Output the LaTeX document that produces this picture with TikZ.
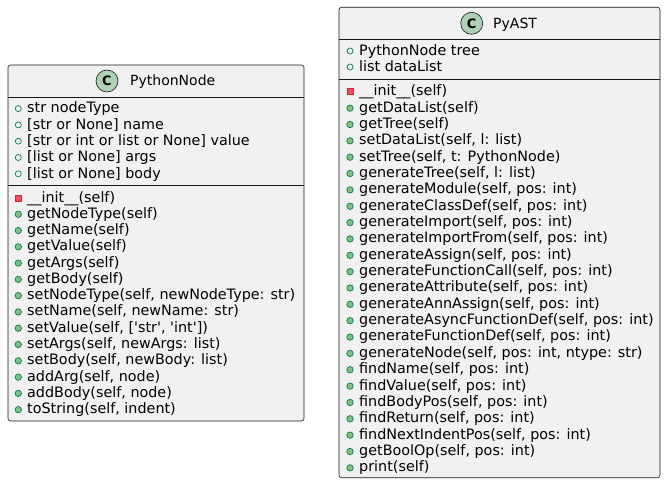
\documentclass[tikz,border=0pt]{standalone}
\usepackage{fontspec}
\setmainfont{DejaVu Sans}[Ligatures=TeXOff]
\definecolor{boxbg}{HTML}{F1F1F1}
\definecolor{boxline}{HTML}{181818}
\definecolor{circfill}{HTML}{ADD1B2}
\definecolor{pubfill}{HTML}{84BE84}
\definecolor{publine}{HTML}{038048}
\definecolor{privfill}{HTML}{F24D5C}
\definecolor{privline}{HTML}{C82930}
\tikzset{
  classbox/.style={draw=boxline, fill=boxbg, rounded corners=2.5pt, line width=0.6pt, inner sep=0pt},
  sepline/.style={draw=boxline, line width=0.6pt},
  member/.style={anchor=base west, inner sep=0pt, font=\fontsize{14.35pt}{16pt}\selectfont, text=black},
  title/.style={anchor=base west, inner sep=0pt, font=\fontsize{14pt}{16pt}\selectfont, text=black},
  attrico/.style={circle, draw=publine, line width=0.7pt, fill=none, minimum size=6pt, inner sep=0pt},
  methico/.style={circle, draw=publine, line width=0.7pt, fill=pubfill, minimum size=6.4pt, inner sep=0pt},
  privico/.style={rectangle, draw=privline, line width=0.7pt, fill=privfill, minimum size=6pt, inner sep=0pt},
  cico/.style={circle, draw=boxline, line width=0.6pt, fill=circfill, minimum size=22pt, inner sep=0pt, font=\fontsize{13pt}{13pt}\selectfont\bfseries},
}
\begin{document}
\begin{tikzpicture}[x=1pt,y=-1pt]
\useasboundingbox (0,0) rectangle (666,484);
% ---------------- PythonNode ----------------
\node[classbox, minimum width=296pt, minimum height=356pt] (pn) at (156,243) {};
\coordinate (pns1) at (0,97);
\coordinate (pns2) at (0,185.5);
\draw[sepline] (pn.west |- pns1) -- (pn.east |- pns1);
\draw[sepline] (pn.west |- pns2) -- (pn.east |- pns2);
\node[cico] (pnc) at (107,81) {C};
\node[title] (pnt) at (130,86) {PythonNode};
\foreach \t [count=\i] in {{str nodeType},{[str or None] name},{[str or int or list or None] value},{[list or None] args},{[list or None] body}}{
  \node[attrico] (pnai\i) at (18.3,{108.6+16.3*(\i-1)}) {};
  \node[member] (pna\i) at (27,{113+16.3*(\i-1)}) {\t};
}
\node[privico] (pnmi1) at (18.3,198) {};
\node[member] (pnm1) at (27,202) {\_\_init\_\_(self)};
\foreach \t [count=\i from 2] in {{getNodeType(self)},{getName(self)},{getValue(self)},{getArgs(self)},{getBody(self)},{setNodeType(self, newNodeType: str)},{setName(self, newName: str)},{setValue(self, ['str', 'int'])},{setArgs(self, newArgs: list)},{setBody(self, newBody: list)},{addArg(self, node)},{addBody(self, node)},{toString(self, indent)}}{
  \node[methico] (pnmi\i) at (18.3,{198+16.28*(\i-1)}) {};
  \node[member] (pnm\i) at (27,{202+16.28*(\i-1)}) {\t};
}
% ---------------- PyAST ----------------
\node[classbox, minimum width=321pt, minimum height=470.4pt] (pa) at (499.5,242.5) {};
\coordinate (pas1) at (0,39.3);
\coordinate (pas2) at (0,79.3);
\draw[sepline] (pa.west |- pas1) -- (pa.east |- pas1);
\draw[sepline] (pa.west |- pas2) -- (pa.east |- pas2);
\node[cico] (pac) at (471.7,23.3) {C};
\node[title] (pat) at (493,28.3) {PyAST};
\foreach \t [count=\i] in {{PythonNode tree},{list dataList}}{
  \node[attrico] (paai\i) at (350,{51+16*(\i-1)}) {};
  \node[member] (paa\i) at (359,{55.4+16*(\i-1)}) {\t};
}
\node[privico] (pami1) at (350,91.8) {};
\node[member] (pam1) at (359,95.7) {\_\_init\_\_(self)};
\foreach \t [count=\i from 2] in {{getDataList(self)},{getTree(self)},{setDataList(self, l: list)},{setTree(self, t: PythonNode)},{generateTree(self, l: list)},{generateModule(self, pos: int)},{generateClassDef(self, pos: int)},{generateImport(self, pos: int)},{generateImportFrom(self, pos: int)},{generateAssign(self, pos: int)},{generateFunctionCall(self, pos: int)},{generateAttribute(self, pos: int)},{generateAnnAssign(self, pos: int)},{generateAsyncFunctionDef(self, pos: int)},{generateFunctionDef(self, pos: int)},{generateNode(self, pos: int, ntype: str)},{findName(self, pos: int)},{findValue(self, pos: int)},{findBodyPos(self, pos: int)},{findReturn(self, pos: int)},{findNextIndentPos(self, pos: int)},{getBoolOp(self, pos: int)},{print(self)}}{
  \node[methico] (pami\i) at (350,{91.8+16.35*(\i-1)}) {};
  \node[member] (pam\i) at (359,{95.7+16.35*(\i-1)}) {\t};
}
\end{tikzpicture}
\end{document}
